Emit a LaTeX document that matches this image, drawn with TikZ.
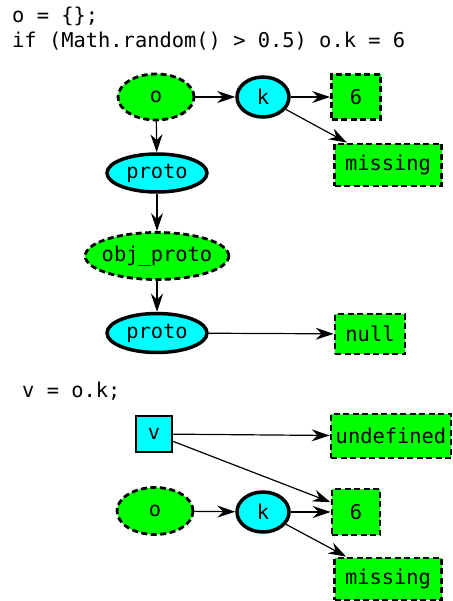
\documentclass[tikz,border=0pt]{standalone}
\usepackage{fontspec}
\setmonofont{DejaVu Sans Mono}
\usetikzlibrary{shapes.geometric,arrows.meta}
\definecolor{objgreen}{RGB}{0,255,0}
\definecolor{refcyan}{RGB}{0,255,255}
\tikzset{
  code/.style={anchor=base west,inner sep=0pt},
  obj/.style={ellipse,draw,fill=objgreen,line width=2.8pt,dash pattern=on 6pt off 3.5pt,inner sep=0pt},
  val/.style={rectangle,draw,fill=objgreen,line width=2.8pt,dash pattern=on 6pt off 3.5pt,inner sep=0pt},
  prop/.style={ellipse,draw,fill=refcyan,line width=3.5pt,inner sep=0pt},
  var/.style={rectangle,draw,fill=refcyan,line width=2.5pt,inner sep=0pt},
  ptr/.style={line width=1.2pt,-{Stealth[length=18pt,width=12pt,inset=6pt]}}
}

\begin{document}
\begin{tikzpicture}[x=1pt,y=-1pt,every node/.append style={font=\fontsize{20.4}{24}\ttfamily}]
\useasboundingbox (0,0) rectangle (452,601);

% first program
\node [code] (line1) at (12,23) {o = \{\};};
\node [code] (line2) at (12,48) {if (Math.random() > 0.5) o.k = 6};

\node [obj, minimum width=76pt, minimum height=46pt] (o1) at (156,97) {o};
\node [prop, minimum width=52pt, minimum height=40pt] (k1) at (263,97) {k};
\node [val, minimum width=49pt, minimum height=45pt] (six1) at (356,97) {6};
\node [val, minimum width=107pt, minimum height=42pt] (miss1) at (388,165) {missing};
\node [prop, minimum width=100pt, minimum height=38pt] (proto1) at (157,173) {proto};
\node [obj, inner xsep=-4.5pt, minimum height=47pt] (objproto) at (157,256) {obj\_proto};
\node [prop, minimum width=100pt, minimum height=39pt] (proto2) at (157,333) {proto};
\node [val, minimum width=70pt, minimum height=40pt] (null) at (370,334) {null};

\draw [ptr] (o1) -- (k1);
\draw [ptr] (k1) -- (six1);
\draw [ptr] (k1) -- (miss1);
\draw [ptr] (o1) -- (proto1);
\draw [ptr] (proto1) -- (objproto);
\draw [ptr] (objproto) -- (proto2);
\draw [ptr] (proto2) -- (null);

% second program
\node [code] (line3) at (22,397) {v = o.k;};

\node [var, minimum width=36pt, minimum height=36pt] (v) at (154,434) {v};
\node [val, minimum width=120pt, minimum height=44pt] (undef) at (391,436) {undefined};
\node [obj, minimum width=76pt, minimum height=47pt] (o2) at (155,511) {o};
\node [prop, minimum width=52pt, minimum height=40pt] (k2) at (263,512) {k};
\node [val, minimum width=48pt, minimum height=46pt] (six2) at (356,512) {6};
\node [val, minimum width=107pt, minimum height=42pt] (miss2) at (388,579) {missing};

\draw [ptr] (v) -- (undef);
\draw [ptr] (v) -- (six2);
\draw [ptr] (o2) -- (k2);
\draw [ptr] (k2) -- (six2);
\draw [ptr] (k2) -- (miss2);
\end{tikzpicture}
\end{document}
